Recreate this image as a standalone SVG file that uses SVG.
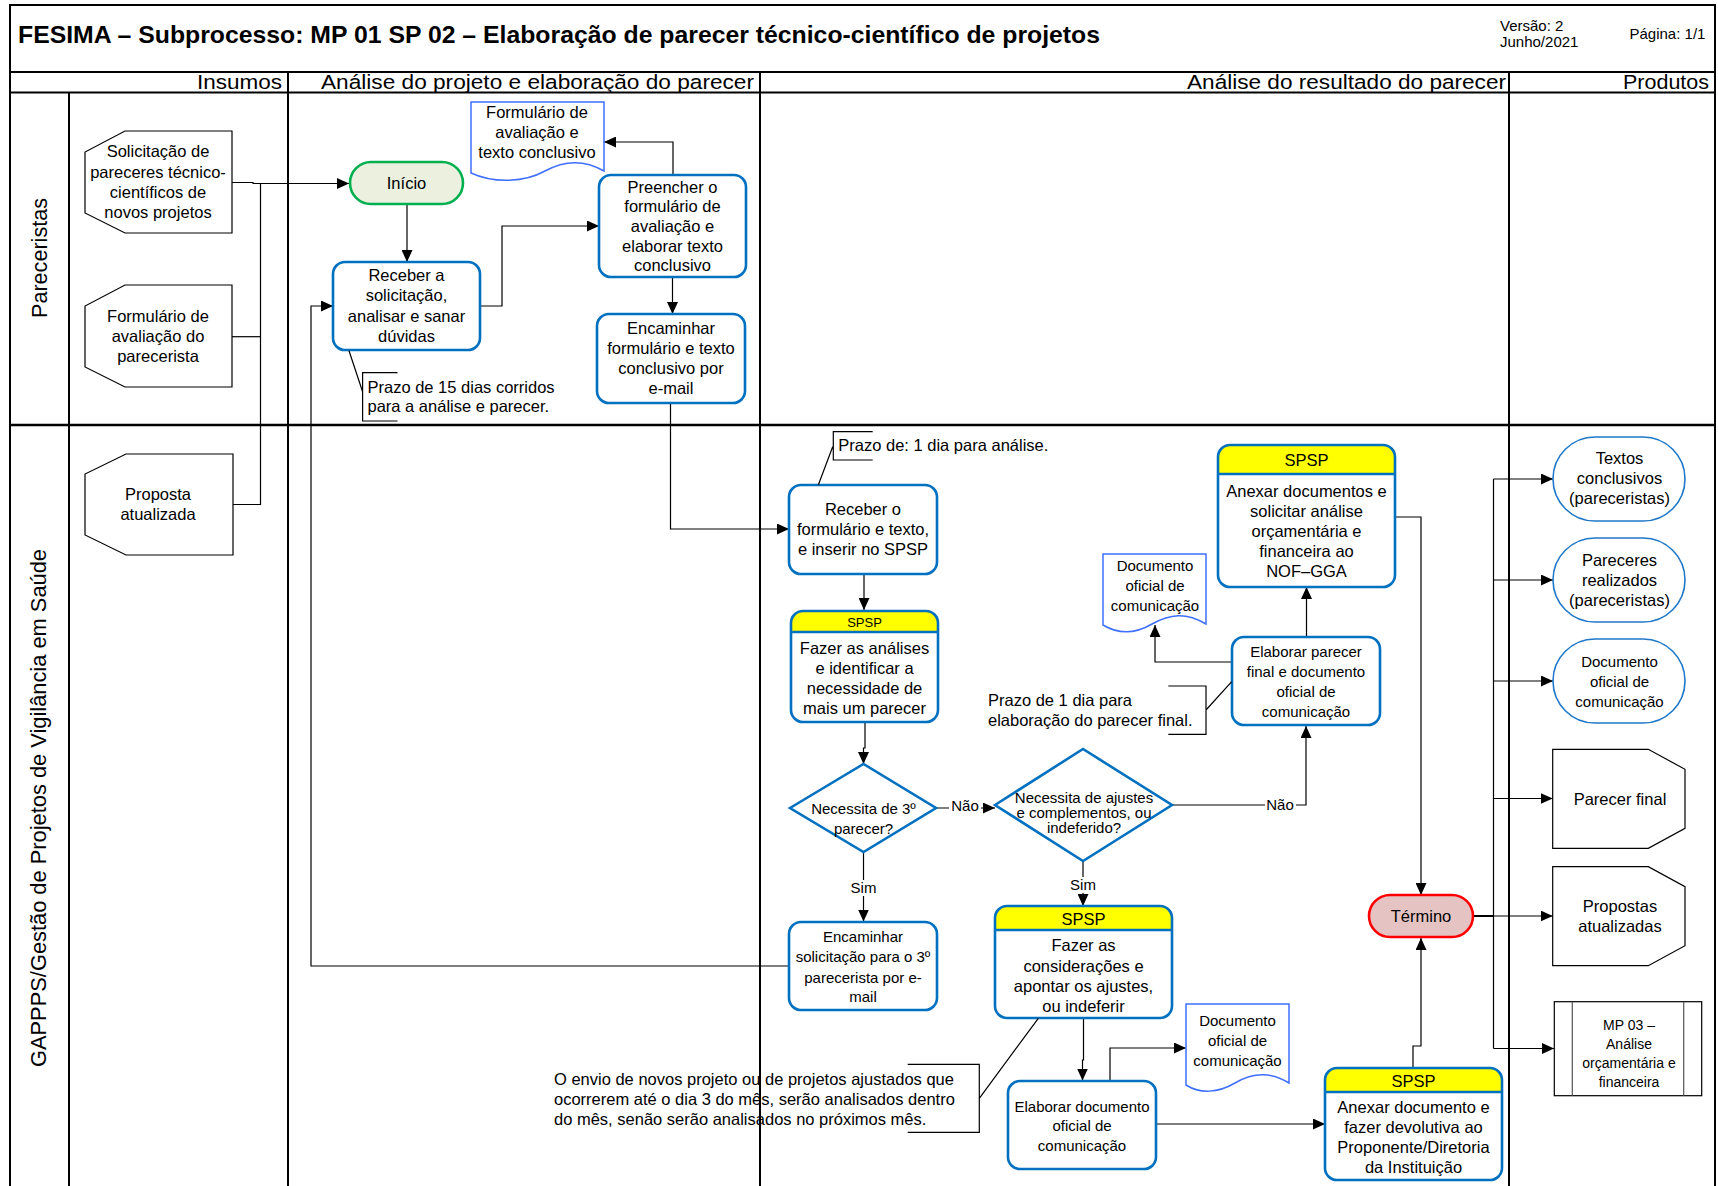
<svg xmlns="http://www.w3.org/2000/svg" width="1718" height="1186" viewBox="0 0 1718 1186">
<defs>
<marker id="ah" markerWidth="12" markerHeight="11" refX="12" refY="5.5" orient="auto" markerUnits="userSpaceOnUse"><path d="M0,0 L12,5.5 L0,11 Z" fill="#000"/></marker>
<style>
.frame{fill:none;stroke:#000;stroke-width:2}
.t{font-family:"Liberation Sans",Arial,sans-serif;font-size:16.5px;fill:#000;text-anchor:middle}
.c{font-size:15px}
.m{font-size:14px}
.l{text-anchor:start}
.e{text-anchor:end}
.box{fill:#fff;stroke:#0070C0;stroke-width:2.6}
.ol{fill:none;stroke:#0070C0;stroke-width:2.6}
.hdr{fill:#FFFF00;stroke:none}
.doc{fill:#fff;stroke:#3F6FFF;stroke-width:1.5}
.off{fill:#fff;stroke:#000;stroke-width:1.2}
.prod{fill:#fff;stroke:#1F78C8;stroke-width:1.6}
.cn{fill:none;stroke:#000;stroke-width:1.2}
.cna{fill:none;stroke:#000;stroke-width:1.2;marker-end:url(#ah)}
.ann{fill:none;stroke:#000;stroke-width:1.2}
.lbl{fill:#fff;stroke:none}
</style>
</defs>
<rect x="0" y="0" width="1718" height="1186" fill="#fff"/>

<g id="frame">
<rect x="10" y="5" width="1705" height="1200" class="frame"/>
<path d="M10,72 H1715 M10,92.5 H1715 M69,92.5 V1186 M288,72 V1186 M760,72 V1186 M1509,72 V1186" class="frame"/>
<path d="M10,425 H1715" fill="none" stroke="#000" stroke-width="2.6"/>
<text x="18" y="42.5" class="t l" style="font-size:24px;font-weight:bold" textLength="1082" lengthAdjust="spacingAndGlyphs">FESIMA – Subprocesso: MP 01 SP 02 – Elaboração de parecer técnico-científico de projetos</text>
<text x="1500" y="30.5" class="t l c">Versão: 2</text>
<text x="1500" y="47" class="t l c">Junho/2021</text>
<text x="1629.5" y="38.5" class="t l c">Página: 1/1</text>
<text x="197" y="89" class="t l" style="font-size:20.5px" textLength="85" lengthAdjust="spacingAndGlyphs">Insumos</text>
<text x="321" y="89" class="t l" style="font-size:20.5px" textLength="433" lengthAdjust="spacingAndGlyphs">Análise do projeto e elaboração do parecer</text>
<text x="1187" y="89" class="t l" style="font-size:20.5px" textLength="319" lengthAdjust="spacingAndGlyphs">Análise do resultado do parecer</text>
<text x="1623" y="89" class="t l" style="font-size:20.5px" textLength="86" lengthAdjust="spacingAndGlyphs">Produtos</text>
<text transform="translate(46.5,258) rotate(-90)" class="t" style="font-size:21.5px" textLength="120" lengthAdjust="spacingAndGlyphs">Pareceristas</text>
<text transform="translate(46,808) rotate(-90)" class="t" style="font-size:21.5px" textLength="518" lengthAdjust="spacingAndGlyphs">GAPPPS/Gestão de Projetos de Vigilância em Saúde</text>
</g>

<g id="connectors">
<path d="M232,182.5 H253 V183.5 H349" class="cna"/>
<path d="M232,336.7 H260.5" class="cn"/>
<path d="M233,504.5 H260.5 V183.5" class="cn"/>
<path d="M407,204 V262" class="cna"/>
<path d="M480,306 H502 V226 H599" class="cna"/>
<path d="M673,175 V142 H604" class="cna"/>
<path d="M672.5,277 V314" class="cna"/>
<path d="M670.5,403 V529 H789" class="cna"/>
<path d="M864,574 V610" class="cna"/>
<path d="M865,722 V748 H863.5 V764" class="cna"/>
<path d="M936,808 H995" class="cna"/>
<path d="M863.5,852 V921.5" class="cna"/>
<path d="M789,966 H311 V306 H333" class="cna"/>
<path d="M1083,861 V906" class="cna"/>
<path d="M1172,805 H1306 V726" class="cna"/>
<path d="M1306.5,637 V587" class="cna"/>
<path d="M1232,662 H1155 V625" class="cna"/>
<path d="M1083.5,1018 V1060 H1082.5 V1080.5" class="cna"/>
<path d="M1110,1080.5 V1048 H1186" class="cna"/>
<path d="M1156,1124 H1325" class="cna"/>
<path d="M1413,1068 V1046 H1421 V938" class="cna"/>
<path d="M1395,517 H1421 V895" class="cna"/>
<path d="M1473,916 H1493.5" fill="none" stroke="#000" stroke-width="2"/>
<path d="M1493.5,479 V1048.5" class="cn"/>
<path d="M1493.5,479 H1553" class="cna"/>
<path d="M1493.5,580 H1553" class="cna"/>
<path d="M1493.5,681 H1553" class="cna"/>
<path d="M1493.5,798.5 H1552.7" class="cna"/>
<path d="M1493.5,916 H1552.7" class="cna"/>
<path d="M1493.5,1048.5 H1554" class="cna"/>
<rect x="949" y="798" width="32" height="17" class="lbl"/>
<text x="965" y="811" class="t c">Não</text>
<rect x="850" y="880" width="27" height="16" class="lbl"/>
<text x="863.5" y="893" class="t c">Sim</text>
<rect x="1070" y="877" width="27" height="16" class="lbl"/>
<text x="1083" y="890.3" class="t c">Sim</text>
<rect x="1265" y="797" width="31" height="17" class="lbl"/>
<text x="1280" y="810.3" class="t c">Não</text>
</g>

<g id="in-solicitacao">
<polygon points="125,131 232,131 232,233 125,233 85,213 85,152" class="off"/>
<text class="t" x="158"><tspan x="158" y="156.8">Solicitação de</tspan><tspan x="158" y="177.5">pareceres técnico-</tspan><tspan x="158" y="197.5">científicos de</tspan><tspan x="158" y="217.5">novos projetos</tspan></text>
</g>
<g id="in-formulario">
<polygon points="125,285 232,285 232,387 125,387 85,367 85,306" class="off"/>
<text class="t"><tspan x="158" y="321.5">Formulário de</tspan><tspan x="158" y="341.8">avaliação do</tspan><tspan x="158" y="361.8">parecerista</tspan></text>
</g>
<g id="in-proposta">
<polygon points="126,454 233,454 233,555 126,555 85,535 85,474" class="off"/>
<text class="t"><tspan x="158" y="499.8">Proposta</tspan><tspan x="158" y="519.8">atualizada</tspan></text>
</g>

<g id="inicio">
<rect x="350" y="162" width="113" height="42" rx="21" fill="#EBF1DE" stroke="#00B050" stroke-width="2.6"/>
<text x="406.5" y="188.8" class="t">Início</text>
</g>
<g id="receber-solicitacao">
<rect x="333" y="262" width="147" height="88" rx="12" class="box"/>
<text class="t"><tspan x="406.5" y="280.8">Receber a</tspan><tspan x="406.5" y="300.8">solicitação,</tspan><tspan x="406.5" y="321.8">analisar e sanar</tspan><tspan x="406.5" y="341.8">dúvidas</tspan></text>
</g>
<g id="doc-formulario">
<path d="M471,102 H604 V171 C585,160 565,160 545,171 C525,182 495,184 471,173 Z" class="doc"/>
<text class="t"><tspan x="537" y="117.5">Formulário de</tspan><tspan x="537" y="137.5">avaliação e</tspan><tspan x="537" y="157.5">texto conclusivo</tspan></text>
</g>
<g id="preencher">
<rect x="599" y="175" width="147" height="102" rx="12" class="box"/>
<text class="t"><tspan x="672.5" y="192.5">Preencher o</tspan><tspan x="672.5" y="211.8">formulário de</tspan><tspan x="672.5" y="231.8">avaliação e</tspan><tspan x="672.5" y="251.8">elaborar texto</tspan><tspan x="672.5" y="270.8">conclusivo</tspan></text>
</g>
<g id="encaminhar-formulario">
<rect x="597" y="314" width="148" height="89" rx="12" class="box"/>
<text class="t"><tspan x="671" y="333.8">Encaminhar</tspan><tspan x="671" y="353.8">formulário e texto</tspan><tspan x="671" y="373.8">conclusivo por</tspan><tspan x="671" y="393.8">e-mail</tspan></text>
</g>
<g id="nota-15dias">
<path d="M397.5,372.7 H362.6 V421 H397.5 M362.6,391.7 L349,350.7" class="ann"/>
<text class="t l"><tspan x="367.5" y="392.5">Prazo de 15 dias corridos</tspan><tspan x="367.5" y="411.8">para a análise e parecer.</tspan></text>
</g>

<g id="receber-formulario">
<rect x="789" y="485" width="148" height="89" rx="12" class="box"/>
<text class="t"><tspan x="863" y="515.1">Receber o</tspan><tspan x="863" y="535.1">formulário e texto,</tspan><tspan x="863" y="555.1">e inserir no SPSP</tspan></text>
</g>
<g id="nota-1dia">
<path d="M872.7,431.7 H833.3 V460 H872.7 M832.7,446.7 L818.3,485" class="ann"/>
<text x="838.3" y="450.8" class="t l">Prazo de: 1 dia para análise.</text>
</g>
<g id="fazer-analises">
<path d="M791,632 V623 Q791,611 803,611 H926 Q938,611 938,623 V632 Z" class="hdr"/>
<rect x="791" y="611" width="147" height="111" rx="12" class="ol"/>
<path d="M791,632 H938" class="ol"/>
<text x="864.5" y="626.6" class="t" style="font-size:13px">SPSP</text>
<text class="t"><tspan x="864.5" y="654.1">Fazer as análises</tspan><tspan x="864.5" y="674.1">e identificar a</tspan><tspan x="864.5" y="694.1">necessidade de</tspan><tspan x="864.5" y="714.1">mais um parecer</tspan></text>
</g>
<g id="decisao-3parecer">
<polygon points="790,808 863.5,764 936,808 863.5,852" class="box"/>
<text class="t c"><tspan x="863.5" y="814.3">Necessita de 3º</tspan><tspan x="863.5" y="833.6">parecer?</tspan></text>
</g>
<g id="decisao-ajustes">
<polygon points="995,805 1083,749 1172,805 1083,861" class="box"/>
<text class="t c"><tspan x="1084" y="803">Necessita de ajustes</tspan><tspan x="1084" y="818">e complementos, ou</tspan><tspan x="1084" y="833">indeferido?</tspan></text>
</g>
<g id="encaminhar-solicitacao">
<rect x="789" y="922" width="148" height="88" rx="12" class="box"/>
<text class="t c"><tspan x="863" y="942">Encaminhar</tspan><tspan x="863" y="962">solicitação para o 3º</tspan><tspan x="863" y="982.6">parecerista por e-</tspan><tspan x="863" y="1002">mail</tspan></text>
</g>
<g id="consideracoes">
<path d="M995,930 V918 Q995,906 1007,906 H1160 Q1172,906 1172,918 V930 Z" class="hdr"/>
<rect x="995" y="906" width="177" height="112" rx="12" class="ol"/>
<path d="M995,930 H1172" class="ol"/>
<text x="1083.5" y="924.8" class="t">SPSP</text>
<text class="t"><tspan x="1083.5" y="950.8">Fazer as</tspan><tspan x="1083.5" y="971.5">considerações e</tspan><tspan x="1083.5" y="991.5">apontar os ajustes,</tspan><tspan x="1083.5" y="1011.5">ou indeferir</tspan></text>
</g>
<g id="nota-envio">
<path d="M907.7,1064.3 H979.3 V1132.3 H907.7 M979.3,1098.3 L1038.3,1018.3" class="ann"/>
<text class="t l"><tspan x="554" y="1085.3">O envio de novos projeto ou de projetos ajustados que</tspan><tspan x="554" y="1104.8">ocorrerem até o dia 3 do mês, serão analisados dentro</tspan><tspan x="554" y="1125.4">do mês, senão serão analisados no próximos mês.</tspan></text>
</g>
<g id="elaborar-documento">
<rect x="1008" y="1081" width="148" height="88" rx="12" class="box"/>
<text class="t c"><tspan x="1082" y="1112">Elaborar documento</tspan><tspan x="1082" y="1131.3">oficial de</tspan><tspan x="1082" y="1151.3">comunicação</tspan></text>
</g>
<g id="doc-oficial-2">
<path d="M1186,1004 H1289 V1083 C1270,1071 1252,1073 1235,1083 C1218,1093 1200,1094 1186,1085 Z" class="doc"/>
<text class="t c"><tspan x="1237.5" y="1026.3">Documento</tspan><tspan x="1237.5" y="1046.3">oficial de</tspan><tspan x="1237.5" y="1066.3">comunicação</tspan></text>
</g>
<g id="anexar-devolutiva">
<path d="M1325,1092 V1080 Q1325,1068 1337,1068 H1490 Q1502,1068 1502,1080 V1092 Z" class="hdr"/>
<rect x="1325" y="1068" width="177" height="112" rx="12" class="ol"/>
<path d="M1325,1092 H1502" class="ol"/>
<text x="1413.5" y="1086.5" class="t">SPSP</text>
<text class="t"><tspan x="1413.5" y="1113.1">Anexar documento e</tspan><tspan x="1413.5" y="1133.1">fazer devolutiva ao</tspan><tspan x="1413.5" y="1153.1">Proponente/Diretoria</tspan><tspan x="1413.5" y="1173.1">da Instituição</tspan></text>
</g>
<g id="termino">
<rect x="1369" y="895" width="104" height="42" rx="21" fill="#E6C3C3" stroke="#FF0000" stroke-width="2.6"/>
<text x="1421" y="921.8" class="t">Término</text>
</g>
<g id="anexar-nof">
<path d="M1218,474 V457 Q1218,445 1230,445 H1383 Q1395,445 1395,457 V474 Z" class="hdr"/>
<rect x="1218" y="445" width="177" height="142" rx="12" class="ol"/>
<path d="M1218,474 H1395" class="ol"/>
<text x="1306.5" y="465.8" class="t">SPSP</text>
<text class="t"><tspan x="1306.5" y="496.8">Anexar documentos e</tspan><tspan x="1306.5" y="516.8">solicitar análise</tspan><tspan x="1306.5" y="536.8">orçamentária e</tspan><tspan x="1306.5" y="556.8">financeira ao</tspan><tspan x="1306.5" y="576.8">NOF–GGA</tspan></text>
</g>
<g id="elaborar-parecer-final">
<rect x="1232" y="637" width="148" height="88" rx="12" class="box"/>
<text class="t c"><tspan x="1306" y="657">Elaborar parecer</tspan><tspan x="1306" y="677">final e documento</tspan><tspan x="1306" y="697">oficial de</tspan><tspan x="1306" y="717">comunicação</tspan></text>
</g>
<g id="doc-oficial-1">
<path d="M1103,554 H1206 V624 C1186,612 1170,614 1152,624 C1135,634 1118,634 1103,625 Z" class="doc"/>
<text class="t c"><tspan x="1155" y="571">Documento</tspan><tspan x="1155" y="591">oficial de</tspan><tspan x="1155" y="611">comunicação</tspan></text>
</g>
<g id="nota-parecer-final">
<path d="M1168.3,686 H1206 V734.3 H1168.3 M1206,710 L1231.7,681.7" class="ann"/>
<text class="t l"><tspan x="988" y="705.8">Prazo de 1 dia para</tspan><tspan x="988" y="725.8">elaboração do parecer final.</tspan></text>
</g>

<g id="p-textos">
<rect x="1553" y="437" width="132" height="84" rx="42" class="prod"/>
<text class="t"><tspan x="1619.5" y="464.1">Textos</tspan><tspan x="1619.5" y="484.1">conclusivos</tspan><tspan x="1619.5" y="504.1">(pareceristas)</tspan></text>
</g>
<g id="p-pareceres">
<rect x="1553" y="538" width="132" height="84" rx="42" class="prod"/>
<text class="t"><tspan x="1619.5" y="565.8">Pareceres</tspan><tspan x="1619.5" y="585.8">realizados</tspan><tspan x="1619.5" y="605.8">(pareceristas)</tspan></text>
</g>
<g id="p-documento">
<rect x="1553" y="639" width="132" height="84" rx="42" class="prod"/>
<text class="t c"><tspan x="1619.5" y="667">Documento</tspan><tspan x="1619.5" y="687">oficial de</tspan><tspan x="1619.5" y="707">comunicação</tspan></text>
</g>
<g id="p-parecer-final">
<polygon points="1552.7,749.3 1648.3,749.3 1685,769.3 1685,828.3 1648.3,848.3 1552.7,848.3" class="off"/>
<text x="1620" y="805.1" class="t">Parecer final</text>
</g>
<g id="p-propostas">
<polygon points="1552.7,866.7 1648.3,866.7 1685,886.7 1685,945.7 1648.3,965.7 1552.7,965.7" class="off"/>
<text class="t"><tspan x="1620" y="911.8">Propostas</tspan><tspan x="1620" y="931.8">atualizadas</tspan></text>
</g>
<g id="p-mp03">
<rect x="1554.3" y="1001.7" width="147.4" height="94" class="off"/>
<path d="M1572.3,1001.7 V1095.7 M1683.7,1001.7 V1095.7" fill="none" stroke="#555" stroke-width="1.2"/>
<text class="t m"><tspan x="1629" y="1030">MP 03 –</tspan><tspan x="1629" y="1049">Análise</tspan><tspan x="1629" y="1068">orçamentária e</tspan><tspan x="1629" y="1087">financeira</tspan></text>
</g>
</svg>
